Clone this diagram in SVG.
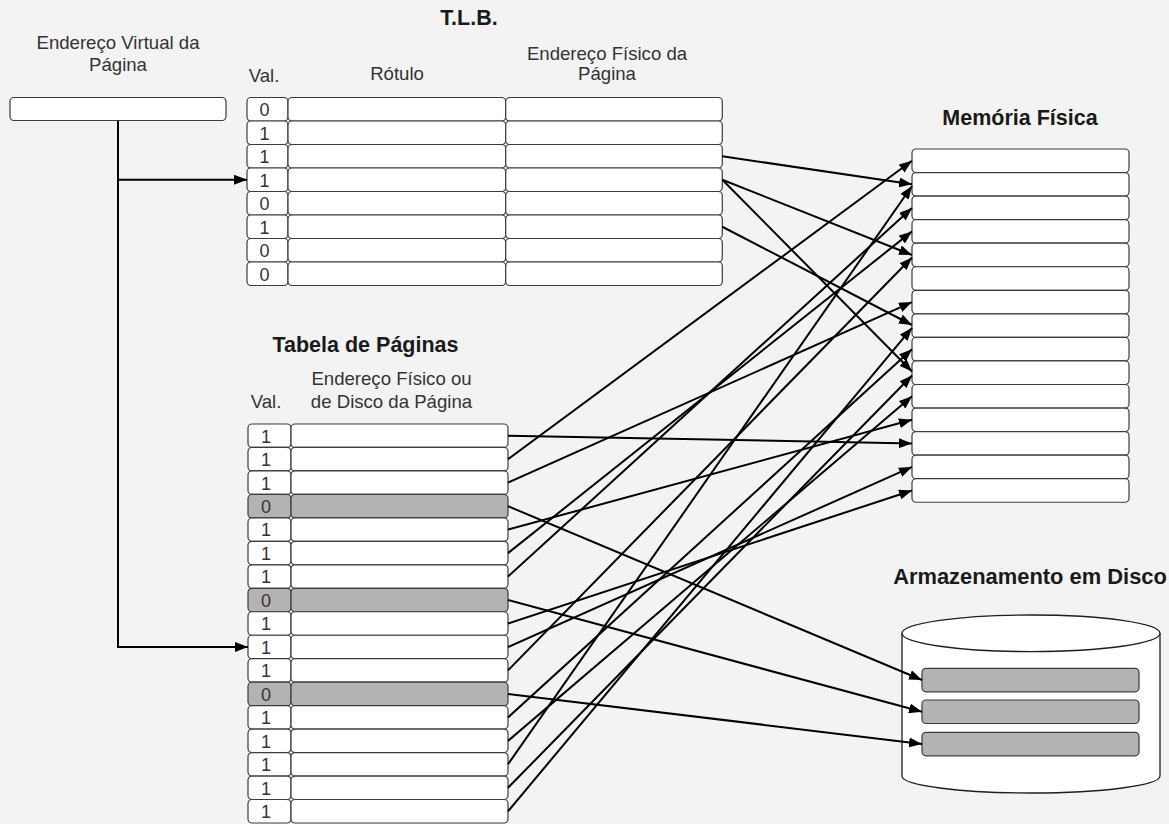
<svg xmlns="http://www.w3.org/2000/svg" width="1169" height="824" viewBox="0 0 1169 824">
  <defs>
    <marker id="arrow" viewBox="0 0 13 10" refX="13" refY="5" markerWidth="13" markerHeight="10" markerUnits="userSpaceOnUse" orient="auto">
      <path d="M0,0 L13,5 L0,10 Z" fill="#000"/>
    </marker>
  </defs>
  <style>
    text { font-family: "Liberation Sans", Arial, sans-serif; }
    .title { font-size: 21.5px; font-weight: bold; fill: #1a1a1a; text-anchor: middle; }
    .label { font-size: 18.6px; fill: #333; text-anchor: middle; }
    .digit { font-size: 18px; fill: #333; text-anchor: middle; }
    .cell { fill: #fff; stroke: #3c3c3c; stroke-width: 1.2; }
    .off { fill: #b3b3b3; stroke: #3c3c3c; stroke-width: 1.2; }
    .conn { fill: none; stroke: #000; stroke-width: 2; marker-end: url(#arrow); }
    .trunk { fill: none; stroke: #000; stroke-width: 2; }
  </style>

  <rect x="0" y="0" width="1169" height="824" fill="#f3f3f3"/>

  <!-- virtual page address -->
  <g id="virtual-address">
    <text class="label" x="118" y="48.5">Endereço Virtual da</text>
    <text class="label" x="118" y="71">Página</text>
    <rect class="cell" x="10" y="97.5" width="216" height="23" rx="4"/>
  </g>

  <!-- translation lookaside buffer -->
  <g id="tlb">
    <text class="title" x="469" y="25">T.L.B.</text>
    <text class="label" x="264" y="81.5">Val.</text>
    <text class="label" x="397" y="80">Rótulo</text>
    <text class="label" x="607" y="59.5">Endereço Físico da</text>
    <text class="label" x="607" y="80">Página</text>
    <g id="tlb-rows">
      <rect class="cell" x="247" y="97.5" width="41" height="23.5" rx="4"/><rect class="cell" x="288" y="97.5" width="217.7" height="23.5" rx="4"/><rect class="cell" x="505.7" y="97.5" width="216.6" height="23.5" rx="4"/>
      <rect class="cell" x="247" y="121" width="41" height="23.5" rx="4"/><rect class="cell" x="288" y="121" width="217.7" height="23.5" rx="4"/><rect class="cell" x="505.7" y="121" width="216.6" height="23.5" rx="4"/>
      <rect class="cell" x="247" y="144.5" width="41" height="23.5" rx="4"/><rect class="cell" x="288" y="144.5" width="217.7" height="23.5" rx="4"/><rect class="cell" x="505.7" y="144.5" width="216.6" height="23.5" rx="4"/>
      <rect class="cell" x="247" y="168" width="41" height="23.5" rx="4"/><rect class="cell" x="288" y="168" width="217.7" height="23.5" rx="4"/><rect class="cell" x="505.7" y="168" width="216.6" height="23.5" rx="4"/>
      <rect class="cell" x="247" y="191.5" width="41" height="23.5" rx="4"/><rect class="cell" x="288" y="191.5" width="217.7" height="23.5" rx="4"/><rect class="cell" x="505.7" y="191.5" width="216.6" height="23.5" rx="4"/>
      <rect class="cell" x="247" y="215" width="41" height="23.5" rx="4"/><rect class="cell" x="288" y="215" width="217.7" height="23.5" rx="4"/><rect class="cell" x="505.7" y="215" width="216.6" height="23.5" rx="4"/>
      <rect class="cell" x="247" y="238.5" width="41" height="23.5" rx="4"/><rect class="cell" x="288" y="238.5" width="217.7" height="23.5" rx="4"/><rect class="cell" x="505.7" y="238.5" width="216.6" height="23.5" rx="4"/>
      <rect class="cell" x="247" y="262" width="41" height="23.5" rx="4"/><rect class="cell" x="288" y="262" width="217.7" height="23.5" rx="4"/><rect class="cell" x="505.7" y="262" width="216.6" height="23.5" rx="4"/>
    </g>
    <g id="tlb-valid">
      <text class="digit" x="264.5" y="116">0</text>
      <text class="digit" x="264.5" y="139.5">1</text>
      <text class="digit" x="264.5" y="163">1</text>
      <text class="digit" x="264.5" y="186.5">1</text>
      <text class="digit" x="264.5" y="210">0</text>
      <text class="digit" x="264.5" y="233.5">1</text>
      <text class="digit" x="264.5" y="257">0</text>
      <text class="digit" x="264.5" y="280.5">0</text>
    </g>
  </g>

  <!-- page table -->
  <g id="page-table">
    <text class="title" x="365.5" y="351.5">Tabela de Páginas</text>
    <text class="label" x="391.5" y="385">Endereço Físico ou</text>
    <text class="label" x="391.5" y="407.5">de Disco da Página</text>
    <text class="label" x="266" y="407.5">Val.</text>
    <g id="page-table-rows">
      <rect class="cell" x="248" y="424" width="43" height="23.47" rx="4"/><rect class="cell" x="291" y="424" width="217" height="23.47" rx="4"/>
      <rect class="cell" x="248" y="447.47" width="43" height="23.47" rx="4"/><rect class="cell" x="291" y="447.47" width="217" height="23.47" rx="4"/>
      <rect class="cell" x="248" y="470.94" width="43" height="23.47" rx="4"/><rect class="cell" x="291" y="470.94" width="217" height="23.47" rx="4"/>
      <rect class="off" x="248" y="494.41" width="43" height="23.47" rx="4"/><rect class="off" x="291" y="494.41" width="217" height="23.47" rx="4"/>
      <rect class="cell" x="248" y="517.88" width="43" height="23.47" rx="4"/><rect class="cell" x="291" y="517.88" width="217" height="23.47" rx="4"/>
      <rect class="cell" x="248" y="541.35" width="43" height="23.47" rx="4"/><rect class="cell" x="291" y="541.35" width="217" height="23.47" rx="4"/>
      <rect class="cell" x="248" y="564.82" width="43" height="23.47" rx="4"/><rect class="cell" x="291" y="564.82" width="217" height="23.47" rx="4"/>
      <rect class="off" x="248" y="588.29" width="43" height="23.47" rx="4"/><rect class="off" x="291" y="588.29" width="217" height="23.47" rx="4"/>
      <rect class="cell" x="248" y="611.76" width="43" height="23.47" rx="4"/><rect class="cell" x="291" y="611.76" width="217" height="23.47" rx="4"/>
      <rect class="cell" x="248" y="635.23" width="43" height="23.47" rx="4"/><rect class="cell" x="291" y="635.23" width="217" height="23.47" rx="4"/>
      <rect class="cell" x="248" y="658.7" width="43" height="23.47" rx="4"/><rect class="cell" x="291" y="658.7" width="217" height="23.47" rx="4"/>
      <rect class="off" x="248" y="682.17" width="43" height="23.47" rx="4"/><rect class="off" x="291" y="682.17" width="217" height="23.47" rx="4"/>
      <rect class="cell" x="248" y="705.64" width="43" height="23.47" rx="4"/><rect class="cell" x="291" y="705.64" width="217" height="23.47" rx="4"/>
      <rect class="cell" x="248" y="729.11" width="43" height="23.47" rx="4"/><rect class="cell" x="291" y="729.11" width="217" height="23.47" rx="4"/>
      <rect class="cell" x="248" y="752.58" width="43" height="23.47" rx="4"/><rect class="cell" x="291" y="752.58" width="217" height="23.47" rx="4"/>
      <rect class="cell" x="248" y="776.05" width="43" height="23.47" rx="4"/><rect class="cell" x="291" y="776.05" width="217" height="23.47" rx="4"/>
      <rect class="cell" x="248" y="799.52" width="43" height="23.47" rx="4"/><rect class="cell" x="291" y="799.52" width="217" height="23.47" rx="4"/>
    </g>
    <g id="page-table-valid">
      <text class="digit" x="266" y="442.5">1</text>
      <text class="digit" x="266" y="466">1</text>
      <text class="digit" x="266" y="489.5">1</text>
      <text class="digit" x="266" y="513">0</text>
      <text class="digit" x="266" y="536.4">1</text>
      <text class="digit" x="266" y="559.9">1</text>
      <text class="digit" x="266" y="583.4">1</text>
      <text class="digit" x="266" y="606.8">0</text>
      <text class="digit" x="266" y="630.3">1</text>
      <text class="digit" x="266" y="653.8">1</text>
      <text class="digit" x="266" y="677.2">1</text>
      <text class="digit" x="266" y="700.7">0</text>
      <text class="digit" x="266" y="724.2">1</text>
      <text class="digit" x="266" y="747.6">1</text>
      <text class="digit" x="266" y="771.1">1</text>
      <text class="digit" x="266" y="794.6">1</text>
      <text class="digit" x="266" y="818">1</text>
    </g>
  </g>

  <!-- physical memory frames -->
  <g id="physical-memory">
    <text class="title" x="1020" y="125">Memória Física</text>
    <rect class="cell" x="912" y="149" width="217" height="23.55" rx="4"/>
    <rect class="cell" x="912" y="172.55" width="217" height="23.55" rx="4"/>
    <rect class="cell" x="912" y="196.1" width="217" height="23.55" rx="4"/>
    <rect class="cell" x="912" y="219.65" width="217" height="23.55" rx="4"/>
    <rect class="cell" x="912" y="243.2" width="217" height="23.55" rx="4"/>
    <rect class="cell" x="912" y="266.75" width="217" height="23.55" rx="4"/>
    <rect class="cell" x="912" y="290.3" width="217" height="23.55" rx="4"/>
    <rect class="cell" x="912" y="313.85" width="217" height="23.55" rx="4"/>
    <rect class="cell" x="912" y="337.4" width="217" height="23.55" rx="4"/>
    <rect class="cell" x="912" y="360.95" width="217" height="23.55" rx="4"/>
    <rect class="cell" x="912" y="384.5" width="217" height="23.55" rx="4"/>
    <rect class="cell" x="912" y="408.05" width="217" height="23.55" rx="4"/>
    <rect class="cell" x="912" y="431.6" width="217" height="23.55" rx="4"/>
    <rect class="cell" x="912" y="455.15" width="217" height="23.55" rx="4"/>
    <rect class="cell" x="912" y="478.7" width="217" height="23.55" rx="4"/>
  </g>

  <!-- disk storage cylinder -->
  <g id="disk-storage">
    <text class="title" x="1030" y="584" style="font-size:21.9px">Armazenamento em Disco</text>
    <path d="M902,633.3 A129,18.3 0 0 1 1160,633.3 L1160,776 A129,17 0 0 1 902,776 Z" fill="#fff" stroke="#1e1e1e" stroke-width="1.3"/>
    <path d="M902,633.3 A129,18.3 0 0 0 1160,633.3" fill="none" stroke="#1e1e1e" stroke-width="1.3"/>
    <rect class="off" x="922" y="668.3" width="217" height="23.5" rx="4"/>
    <rect class="off" x="922" y="700" width="217" height="23.5" rx="4"/>
    <rect class="off" x="922" y="732.3" width="217" height="23.5" rx="4"/>
  </g>

  <!-- connectors -->
  <g id="connectors">
    <path class="trunk" d="M118,121 L118,179.75"/>
    <path class="conn" d="M118,179.75 L247,179.75"/>
    <path class="conn" d="M118,179 L118,646.97 L248,646.97"/>

    <line class="conn" x1="722.3" y1="156.25" x2="912" y2="184.3"/>
    <line class="conn" x1="722.3" y1="179.75" x2="912" y2="255"/>
    <line class="conn" x1="722.3" y1="179.75" x2="912" y2="371.5"/>
    <line class="conn" x1="722.3" y1="226.75" x2="912" y2="325"/>

    <line class="conn" x1="508" y1="435.7" x2="912" y2="443.4"/>
    <line class="conn" x1="508" y1="459.2" x2="912" y2="160.8"/>
    <line class="conn" x1="508" y1="482.7" x2="912" y2="302.1"/>
    <line class="conn" x1="508" y1="529.6" x2="912" y2="419.8"/>
    <line class="conn" x1="508" y1="553.1" x2="912" y2="231.4"/>
    <line class="conn" x1="508" y1="576.6" x2="912" y2="207.9"/>
    <line class="conn" x1="508" y1="623.5" x2="912" y2="490.5"/>
    <line class="conn" x1="508" y1="647" x2="912" y2="466.9"/>
    <line class="conn" x1="508" y1="670.4" x2="912" y2="257.5"/>
    <line class="conn" x1="508" y1="717.4" x2="912" y2="349.2"/>
    <line class="conn" x1="508" y1="740.9" x2="912" y2="396.3"/>
    <line class="conn" x1="508" y1="764.3" x2="912" y2="186"/>
    <line class="conn" x1="508" y1="787.8" x2="912" y2="375.5"/>
    <line class="conn" x1="508" y1="811.3" x2="912" y2="327.8"/>

    <line class="conn" x1="508" y1="506.2" x2="922" y2="680"/>
    <line class="conn" x1="508" y1="600" x2="922" y2="711.8"/>
    <line class="conn" x1="508" y1="693.9" x2="922" y2="744"/>
  </g>
</svg>
